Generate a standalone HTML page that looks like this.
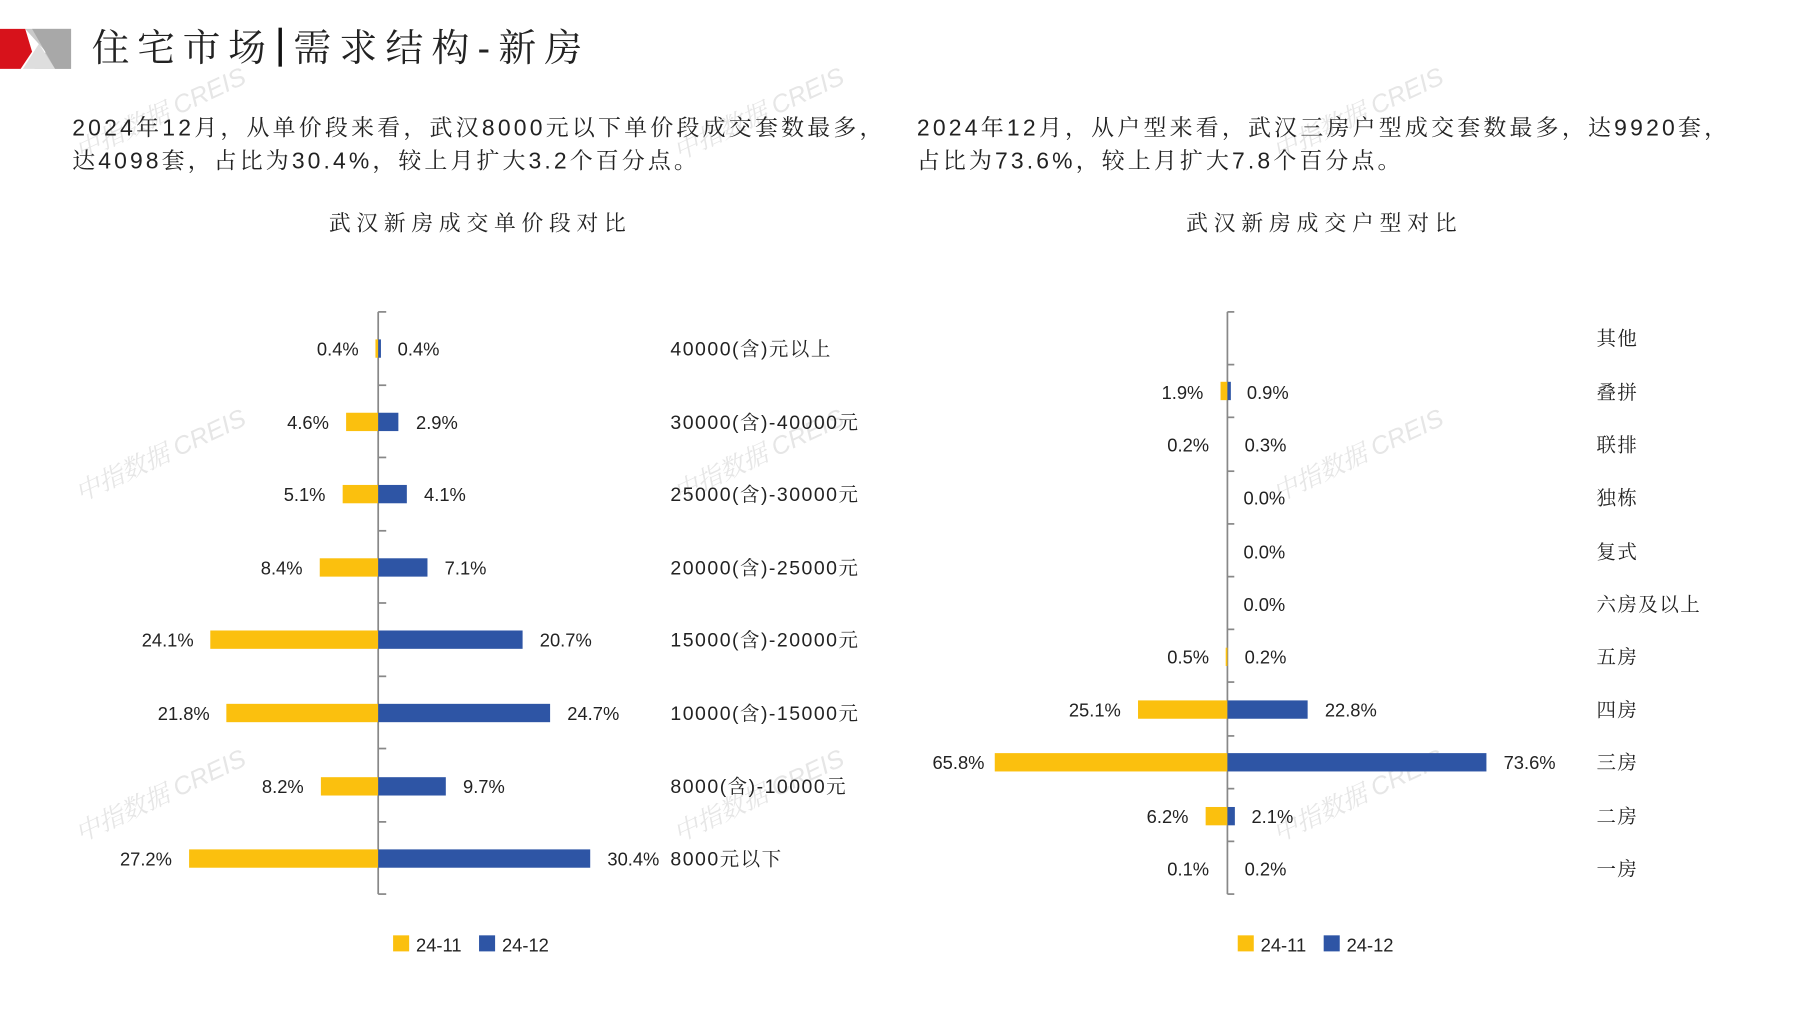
<!DOCTYPE html>
<html><head><meta charset="utf-8"><style>
html,body{margin:0;padding:0;background:#fff;width:1797px;height:1010px;overflow:hidden}
svg{display:block}
text{font-family:"Liberation Sans","Noto Serif CJK SC","Noto Sans CJK SC",sans-serif;fill:#222}
.v{font-size:16px}
.c{font-size:17px;letter-spacing:1.3px}
.wm text{font-size:22px;fill:#e6e6e6;font-style:italic}
</style></head><body>
<svg width="1797" height="1010" viewBox="0 0 1568 881" xmlns="http://www.w3.org/2000/svg">
<rect width="1568" height="881" fill="#fff"/>
<polygon points="0,25 22,25 28,45 18,60 0,60" fill="#d7121b"/>
<polygon points="22,25 62,25 62,60 30,60 40,45" fill="#c9c9c9"/>
<polygon points="28,25 62,25 62,60 48,60" fill="#a8a8a8"/>
<polygon points="20,60 34,38 48,60" fill="#dedede"/>
<text x="80" y="53" style="font-size:33px" textLength="152" lengthAdjust="spacing">住宅市场</text>
<rect x="243" y="24" width="3" height="34" fill="#111"/>
<text x="256" y="53" style="font-size:33px" textLength="252" lengthAdjust="spacing">需求结构-新房</text>
<g class="wm">
<text transform="translate(70,140) rotate(-25)">中指数据 CREIS</text>
<text transform="translate(592,140) rotate(-25)">中指数据 CREIS</text>
<text transform="translate(1115,140) rotate(-25)">中指数据 CREIS</text>
<text transform="translate(70,438) rotate(-25)">中指数据 CREIS</text>
<text transform="translate(592,438) rotate(-25)">中指数据 CREIS</text>
<text transform="translate(1115,438) rotate(-25)">中指数据 CREIS</text>
<text transform="translate(70,735) rotate(-25)">中指数据 CREIS</text>
<text transform="translate(592,735) rotate(-25)">中指数据 CREIS</text>
<text transform="translate(1115,735) rotate(-25)">中指数据 CREIS</text>
</g>
<g style="font-size:20px">
<text x="63" y="118" textLength="707" lengthAdjust="spacing">2024年12月，从单价段来看，武汉8000元以下单价段成交套数最多，</text>
<text x="63" y="147" textLength="545" lengthAdjust="spacing">达4098套，占比为30.4%，较上月扩大3.2个百分点。</text>
<text x="800" y="118" textLength="707" lengthAdjust="spacing">2024年12月，从户型来看，武汉三房户型成交套数最多，达9920套，</text>
<text x="800" y="147" textLength="422" lengthAdjust="spacing">占比为73.6%，较上月扩大7.8个百分点。</text>
</g>
<text x="287" y="201" style="font-size:19px" textLength="259" lengthAdjust="spacing">武汉新房成交单价段对比</text>
<text x="1035" y="201" style="font-size:19px" textLength="236" lengthAdjust="spacing">武汉新房成交户型对比</text>

<g>
<line x1="330" y1="272" x2="330" y2="780" stroke="#888" stroke-width="1.5"/>
<g stroke="#888" stroke-width="1.5">
<line x1="330" y1="272" x2="337" y2="272"/><line x1="330" y1="336" x2="337" y2="336"/><line x1="330" y1="399" x2="337" y2="399"/><line x1="330" y1="463" x2="337" y2="463"/><line x1="330" y1="526" x2="337" y2="526"/><line x1="330" y1="590" x2="337" y2="590"/><line x1="330" y1="653" x2="337" y2="653"/><line x1="330" y1="717" x2="337" y2="717"/><line x1="330" y1="780" x2="337" y2="780"/>
</g>
<rect x="327.6" y="296" width="2.4" height="16" fill="#fbc00e"/><rect x="330" y="296" width="2.4" height="16" fill="#2e55a5"/>
<rect x="302" y="360" width="28" height="16" fill="#fbc00e"/><rect x="330" y="360" width="17.6" height="16" fill="#2e55a5"/>
<rect x="299" y="423" width="31" height="16" fill="#fbc00e"/><rect x="330" y="423" width="25" height="16" fill="#2e55a5"/>
<rect x="279" y="487" width="51" height="16" fill="#fbc00e"/><rect x="330" y="487" width="43" height="16" fill="#2e55a5"/>
<rect x="183.5" y="550" width="146.5" height="16" fill="#fbc00e"/><rect x="330" y="550" width="126" height="16" fill="#2e55a5"/>
<rect x="197.5" y="614" width="132.5" height="16" fill="#fbc00e"/><rect x="330" y="614" width="150" height="16" fill="#2e55a5"/>
<rect x="280" y="678" width="50" height="16" fill="#fbc00e"/><rect x="330" y="678" width="59" height="16" fill="#2e55a5"/>
<rect x="165" y="741" width="165" height="16" fill="#fbc00e"/><rect x="330" y="741" width="185" height="16" fill="#2e55a5"/>
<g class="v" text-anchor="end">
<text x="313" y="310">0.4%</text><text x="287" y="374">4.6%</text><text x="284" y="437">5.1%</text><text x="264" y="501">8.4%</text><text x="169" y="564">24.1%</text><text x="183" y="628">21.8%</text><text x="265" y="692">8.2%</text><text x="150" y="755">27.2%</text>
</g>
<g class="v">
<text x="347" y="310">0.4%</text><text x="363" y="374">2.9%</text><text x="370" y="437">4.1%</text><text x="388" y="501">7.1%</text><text x="471" y="564">20.7%</text><text x="495" y="628">24.7%</text><text x="404" y="692">9.7%</text><text x="530" y="755">30.4%</text>
</g>
<g class="c">
<text x="585" y="310">40000(含)元以上</text><text x="585" y="374">30000(含)-40000元</text><text x="585" y="437">25000(含)-30000元</text><text x="585" y="501">20000(含)-25000元</text><text x="585" y="564">15000(含)-20000元</text><text x="585" y="628">10000(含)-15000元</text><text x="585" y="692">8000(含)-10000元</text><text x="585" y="755">8000元以下</text>
</g>
<rect x="343" y="816" width="14" height="14" fill="#fbc00e"/><text x="363" y="830" class="v">24-11</text>
<rect x="418" y="816" width="14" height="14" fill="#2e55a5"/><text x="438" y="830" class="v">24-12</text>
</g>

<g>
<line x1="1071" y1="272" x2="1071" y2="780" stroke="#888" stroke-width="1.5"/>
<g stroke="#888" stroke-width="1.5">
<line x1="1071" y1="272" x2="1077" y2="272"/><line x1="1071" y1="318" x2="1077" y2="318"/><line x1="1071" y1="364" x2="1077" y2="364"/><line x1="1071" y1="411" x2="1077" y2="411"/><line x1="1071" y1="457" x2="1077" y2="457"/><line x1="1071" y1="503" x2="1077" y2="503"/><line x1="1071" y1="549" x2="1077" y2="549"/><line x1="1071" y1="595" x2="1077" y2="595"/><line x1="1071" y1="642" x2="1077" y2="642"/><line x1="1071" y1="688" x2="1077" y2="688"/><line x1="1071" y1="734" x2="1077" y2="734"/><line x1="1071" y1="780" x2="1077" y2="780"/>
</g>
<rect x="1065" y="333" width="6" height="16" fill="#fbc00e"/><rect x="1071" y="333" width="3" height="16" fill="#2e55a5"/>
<rect x="1069.5" y="565" width="1.5" height="16" fill="#fbc00e"/>
<rect x="993" y="611" width="78" height="16" fill="#fbc00e"/><rect x="1071" y="611" width="70" height="16" fill="#2e55a5"/>
<rect x="868" y="657" width="203" height="16" fill="#fbc00e"/><rect x="1071" y="657" width="226" height="16" fill="#2e55a5"/>
<rect x="1052" y="704" width="19" height="16" fill="#fbc00e"/><rect x="1071" y="704" width="6.5" height="16" fill="#2e55a5"/>
<g class="v" text-anchor="end">
<text x="1050" y="348">1.9%</text><text x="1055" y="394">0.2%</text><text x="1055" y="579">0.5%</text><text x="978" y="625">25.1%</text><text x="859" y="671">65.8%</text><text x="1037" y="718">6.2%</text><text x="1055" y="764">0.1%</text>
</g>
<g class="v">
<text x="1088" y="348">0.9%</text><text x="1086" y="394">0.3%</text><text x="1085" y="440">0.0%</text><text x="1085" y="487">0.0%</text><text x="1085" y="533">0.0%</text><text x="1086" y="579">0.2%</text><text x="1156" y="625">22.8%</text><text x="1312" y="671">73.6%</text><text x="1092" y="718">2.1%</text><text x="1086" y="764">0.2%</text>
</g>
<g class="c">
<text x="1393" y="301">其他</text><text x="1393" y="348">叠拼</text><text x="1393" y="394">联排</text><text x="1393" y="440">独栋</text><text x="1393" y="487">复式</text><text x="1393" y="533">六房及以上</text><text x="1393" y="579">五房</text><text x="1393" y="625">四房</text><text x="1393" y="671">三房</text><text x="1393" y="718">二房</text><text x="1393" y="764">一房</text>
</g>
<rect x="1080" y="816" width="14" height="14" fill="#fbc00e"/><text x="1100" y="830" class="v">24-11</text>
<rect x="1155" y="816" width="14" height="14" fill="#2e55a5"/><text x="1175" y="830" class="v">24-12</text>
</g>
</svg>
</body></html>
